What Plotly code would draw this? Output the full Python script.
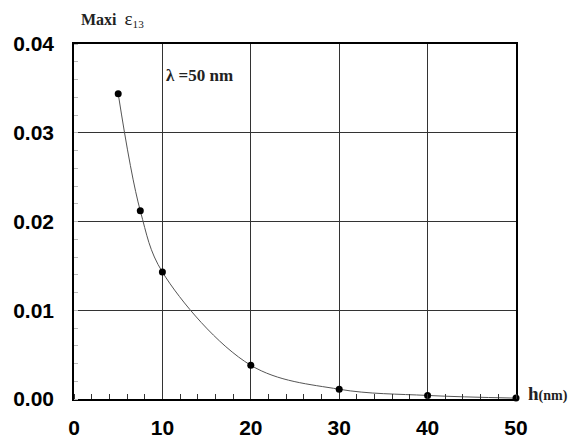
import plotly.graph_objects as go

h_nm = [5, 7.5, 10, 20, 30, 40, 50]
max_eps13 = [0.0344, 0.0212, 0.0143, 0.0038, 0.0011, 0.0004, 0.0001]
x_ticks = [0, 10, 20, 30, 40, 50]
y_ticks = [0.00, 0.01, 0.02, 0.03, 0.04]
y_tick_labels = ["0.00", "0.01", "0.02", "0.03", "0.04"]

fig = go.Figure()
fig.add_trace(go.Scatter(
    x=h_nm, y=max_eps13, mode="lines+markers",
    line=dict(color="#555555", width=1, shape="spline", smoothing=1.0),
    marker=dict(color="black", size=7),
    cliponaxis=False,
    showlegend=False,
))

fig.update_layout(
    width=581, height=441,
    margin=dict(l=74, r=65, t=44, b=42),
    paper_bgcolor="white", plot_bgcolor="white",
    font=dict(family="Liberation Sans, Arial", color="black"),
)
fig.update_xaxes(
    range=[0, 50], tickvals=x_ticks, ticktext=[str(v) for v in x_ticks],
    tickfont=dict(size=21, family="Liberation Sans, Arial", weight="bold"),
    showgrid=True, gridcolor="#333333", gridwidth=1,
    showline=True, linecolor="black", linewidth=1.5, mirror=True,
    ticks="", zeroline=False, ticklabelstandoff=9, automargin=False,
    minor=dict(dtick=2, ticks="inside", ticklen=5, tickcolor="#333333", showgrid=False),
)
fig.update_yaxes(
    range=[0, 0.04], tickvals=y_ticks, ticktext=y_tick_labels,
    tickfont=dict(size=21, family="Liberation Sans, Arial", weight="bold"),
    showgrid=True, gridcolor="#333333", gridwidth=1,
    showline=True, linecolor="black", linewidth=1.5, mirror=True,
    ticks="", zeroline=False, ticklabelstandoff=14, automargin=False,
    minor=dict(dtick=0.002, ticks="inside", ticklen=4, tickcolor="#bbbbbb", showgrid=False),
)

fig.add_annotation(
    text="<b>Maxi</b>  <span style='font-size:19px'>ε</span><sub>13</sub>", xref="paper", yref="paper",
    x=0.0, y=1.0, xanchor="left", yanchor="bottom", yshift=12, xshift=5,
    showarrow=False, font=dict(family="Liberation Serif, Times New Roman", size=16, color="#222222"),
)
fig.add_annotation(
    text="<b>λ =50 nm</b>", xref="x", yref="y",
    x=10.2, y=0.0365, xanchor="left", yanchor="middle",
    showarrow=False, font=dict(family="Liberation Serif, Times New Roman", size=17, color="#222222"),
)
fig.add_annotation(
    text="<b>h</b><span style='font-size:14px'><b>(nm)</b></span>", xref="paper", yref="y",
    x=1.0, y=0.0006, xanchor="left", yanchor="middle", xshift=10,
    showarrow=False, font=dict(family="Liberation Serif, Times New Roman", size=19, color="#222222"),
)

fig.write_html("out.html", config={"displayModeBar": False},
               post_script="document.body.style.margin='0';")
